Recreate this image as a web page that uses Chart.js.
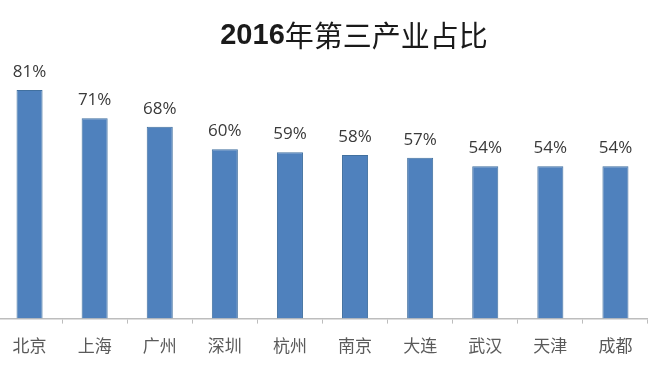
<!DOCTYPE html>
<html>
<head>
<meta charset="utf-8">
<script src="https://cdn.jsdelivr.net/npm/chart.js@4"></script>
<style>
    html, body { margin: 0; padding: 0; background: #fff; overflow: hidden; }
    #wrap { position: absolute; left: -3px; top: 0; width: 651px; height: 373px; }
</style>
</head>
<body>
<div id="wrap"><canvas id="tertiaryChart"></canvas></div>
<script>
const titleText = '2016年第三产业占比';
const cities = ['北京', '上海', '广州', '深圳', '杭州', '南京', '大连', '武汉', '天津', '成都'];
const shares = [81, 71, 68, 60, 59, 58, 57, 54, 54, 54];

// title: digits in bold, CJK part regular (as in the original Excel chart)
const titlePlugin = {
    id: 'titleRuns',
    afterDraw(chart) {
        const ctx = chart.ctx;
        const runs = titleText.match(/\d+|\D+/g).map(t => ({
            text: t,
            font: /\d/.test(t)
                ? 'bold 29px "Liberation Sans", Arial, sans-serif'
                : '29px "Noto Sans CJK SC", sans-serif'
        }));
        ctx.save();
        ctx.fillStyle = '#1a1a1a';
        ctx.textBaseline = 'middle';
        let total = 0;
        runs.forEach(r => { ctx.font = r.font; r.w = ctx.measureText(r.text).width; total += r.w; });
        let x = 357 - total / 2;
        runs.forEach(r => {
            ctx.font = r.font;
            ctx.fillText(r.text, x, 36);
            x += r.w;
        });
        ctx.restore();
    }
};

// value labels on top of the bars
const valueLabels = {
    id: 'valueLabels',
    afterDatasetsDraw(chart) {
        const ctx = chart.ctx;
        const meta = chart.getDatasetMeta(0);
        ctx.save();
        ctx.font = '17px "Open Sans", "Liberation Sans", sans-serif';
        ctx.fillStyle = '#3a3a3a';
        ctx.textAlign = 'center';
        ctx.textBaseline = 'alphabetic';
        meta.data.forEach((bar, i) => {
            ctx.fillText(shares[i] + '%', bar.x, bar.y - 13);
        });
        ctx.restore();
    }
};

new Chart(document.getElementById('tertiaryChart'), {
    type: 'bar',
    data: {
        labels: cities,
        datasets: [{
            data: shares,
            backgroundColor: '#4f81bd',
            borderColor: '#41709f',
            borderWidth: 1,
            categoryPercentage: 1,
            barPercentage: 0.4
        }]
    },
    options: {
        responsive: true,
        maintainAspectRatio: false,
        animation: false,
        layout: { padding: { top: 36.5, bottom: 5, left: 0, right: 0 } },
        plugins: {
            legend: { display: false },
            title: { display: false },
            tooltip: { enabled: false }
        },
        scales: {
            x: {
                offset: true,
                grid: {
                    offset: true,
                    drawOnChartArea: false,
                    drawTicks: true,
                    tickLength: 5,
                    color: '#bdbdbd'
                },
                border: { display: true, color: '#bdbdbd', width: 1.5 },
                ticks: {
                    padding: 12,
                    color: '#5a5a5a',
                    font: { family: '"Noto Sans CJK SC", sans-serif', size: 17 }
                }
            },
            y: {
                display: false,
                min: 0,
                max: 100
            }
        }
    },
    plugins: [titlePlugin, valueLabels]
});
</script>
</body>
</html>
